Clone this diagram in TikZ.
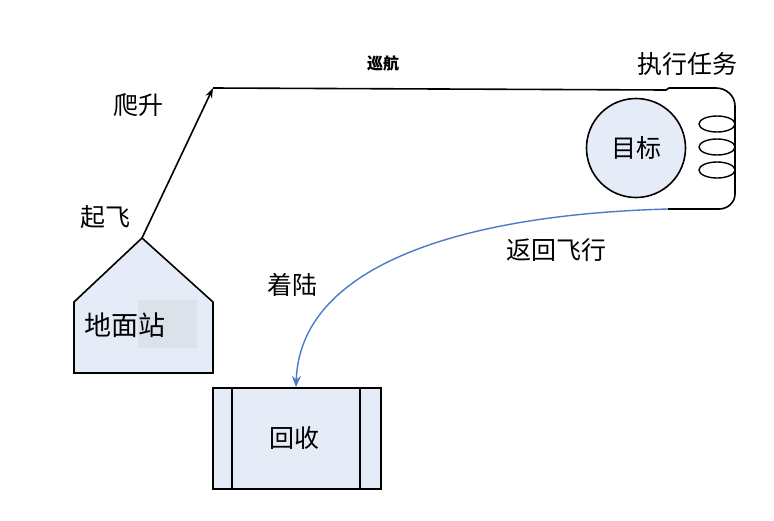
\documentclass[tikz,border=0pt]{standalone}
\usepackage{fontspec}
\setmainfont{Noto Sans CJK SC}
\usetikzlibrary{arrows.meta}
\definecolor{boxfill}{HTML}{E5ECF8}
\definecolor{shadefill}{HTML}{DCE2EA}
\definecolor{retblue}{HTML}{4A7AC8}
\tikzset{
  lbl/.style={font=\fontsize{25}{25}\selectfont, inner sep=0pt},
  biglbl/.style={font=\fontsize{27}{27}\selectfont, inner sep=0pt},
  smalllbl/.style={font=\fontsize{16}{16}\selectfont\bfseries, inner sep=0pt},
  outline/.style={draw=black, line width=1.6pt},
  flight/.style={draw=black, line width=1.6pt},
}
\begin{document}
\begin{tikzpicture}[x=1pt,y=-1pt]
\useasboundingbox (0,0) rectangle (774,520);
% ground station
\coordinate (gsApex) at (142,238);
\path[fill=boxfill, outline] (74,373) -- (74,302) -- (gsApex) -- (213,302) -- (213,373) -- cycle;
\fill[shadefill] (138,300) rectangle (197,348);
\node[biglbl] (gs) at (125,325) {地面站};
% climb
\coordinate (top) at (213,88);
\draw[flight, -{Stealth[length=10pt,width=7pt]}] (gsApex) -- (top);
% cruise and mission loop
\coordinate (c1) at (666,90);
\coordinate (c2) at (669,88);
\coordinate (rt) at (735,106);
\coordinate (rb) at (735,194);
\coordinate (ret) at (668,209);
\draw[flight] (top) -- (c1) -- (c2) -- (716,88) to[out=0,in=90] (rt) -- (rb) to[out=-90,in=0] (719,209) -- (ret);
\draw[line width=1.4pt] (717,124) ellipse (18 and 8);
\draw[line width=1.4pt] (717,147) ellipse (18 and 8);
\draw[line width=1.4pt] (717,170) ellipse (18 and 8);
% target
\node[circle, fill=boxfill, outline, minimum size=99pt, inner sep=0pt] (tgt) at (636,148) {};
\node[lbl] at (tgt) {目标};
% return
\node[draw=black, line width=1.6pt, fill=boxfill, minimum width=168pt, minimum height=101pt, inner sep=0pt, anchor=north west] (rec) at (212,387) {};
\draw[line width=1.6pt] (232,387) -- (232,488);
\draw[line width=1.6pt] (360,387) -- (360,488);
\node[lbl] at (294,438) {回收};
\draw[retblue, line width=1.4pt, -{Stealth[length=11pt,width=9pt]}] (ret) .. controls (450,215) and (300,270) .. (rec.north -| 296,0);
% labels
\node[lbl] (l1) at (138,105) {爬升};
\node[lbl] (l2) at (105,217) {起飞};
\node[smalllbl] (l3) at (383,63) {巡航};
\node[lbl] (l4) at (687,64) {执行任务};
\node[lbl] (l5) at (556,250) {返回飞行};
\node[lbl] (l6) at (292,285) {着陆};
\end{tikzpicture}
\end{document}
